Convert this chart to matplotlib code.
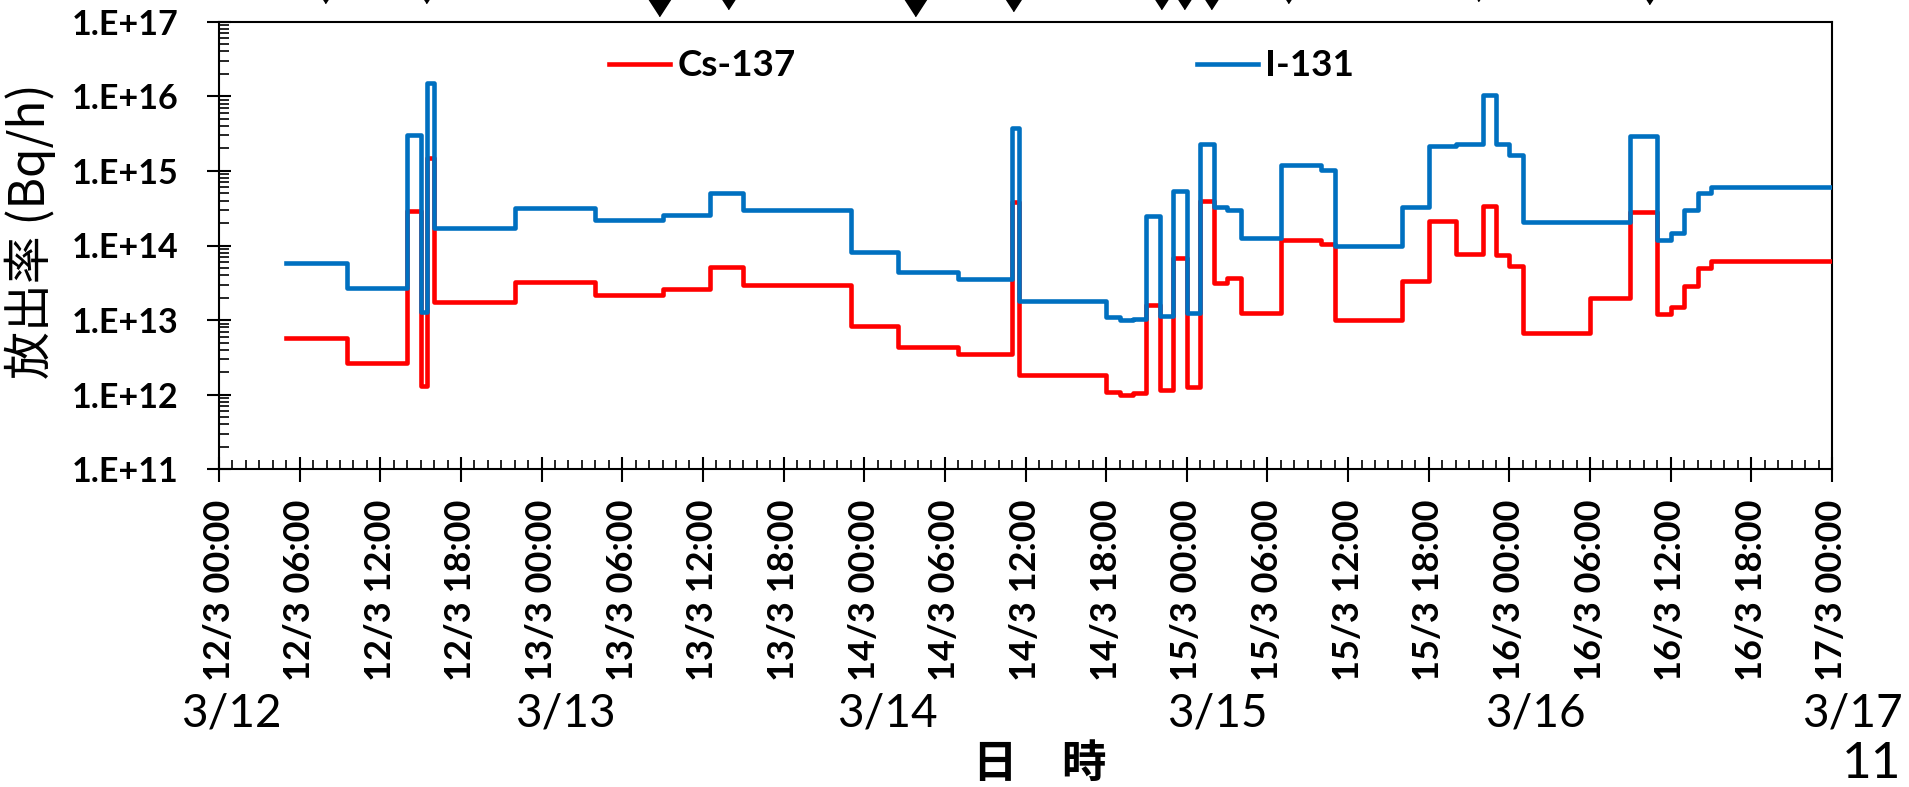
import matplotlib
matplotlib.use("Agg")
import matplotlib.pyplot as plt
import matplotlib.transforms as mtransforms
from matplotlib.ticker import LogLocator, MultipleLocator, NullFormatter
import numpy as np

# hours after 3/12 00:00 at which each release-rate step starts
step_hours = [5, 9.5, 14, 15, 15.5, 16, 22, 28, 33, 36.5,
              39, 47, 50.5, 55, 59, 59.5, 66, 67, 68, 69,
              70, 71, 72, 73, 74, 75, 76, 79, 82, 83,
              88, 90, 92, 94, 95, 96, 97, 102, 105, 107,
              108, 109, 110, 111]
end_hour = 120

# release rate (Bq/h) for each step
i131 = [5.8e13, 2.7e13, 3.0e15, 1.3e13, 1.5e16, 1.7e14, 3.2e14, 2.2e14, 2.6e14, 5.1e14,
        3.0e14, 8.3e13, 4.4e13, 3.56e13, 3.8e15, 1.82e13, 1.09e13, 1.0e13, 1.03e13, 2.45e14,
        1.14e13, 5.4e14, 1.26e13, 2.3e15, 3.3e14, 2.95e14, 1.28e14, 1.21e15, 1.04e15, 1.0e14,
        3.3e14, 2.18e15, 2.3e15, 1.04e16, 2.3e15, 1.63e15, 2.04e14, 2.04e14, 2.9e15, 1.2e14,
        1.45e14, 2.95e14, 5.07e14, 6.1e14]
cs137 = [5.8e12, 2.7e12, 2.9e14, 1.3e12, 1.5e15, 1.75e13, 3.2e13, 2.2e13, 2.6e13, 5.1e13,
         3.0e13, 8.4e12, 4.4e12, 3.5e12, 3.8e14, 1.85e12, 1.1e12, 1.0e12, 1.05e12, 1.6e13,
         1.15e12, 6.9e13, 1.26e12, 3.9e14, 3.1e13, 3.7e13, 1.26e13, 1.2e14, 1.05e14, 1.0e13,
         3.3e13, 2.16e14, 7.6e13, 3.4e14, 7.4e13, 5.3e13, 6.7e12, 2.0e13, 2.8e14, 1.19e13,
         1.48e13, 2.86e13, 5.0e13, 6.2e13]

# event markers along the top (cut off by the slide edge)
event_hours = [7.9, 15.4, 32.7, 37.9, 51.8, 59.1, 70.1, 71.8, 73.8, 79.5, 93.7, 106.4]
event_tip_px = [3, 3, 16, 9, 16, 11, 9, 9, 9, 3, 1, 4]

tick_hours = list(range(0, 121, 6))
tick_labels = ["12/3 00:00", "12/3 06:00", "12/3 12:00", "12/3 18:00",
               "13/3 00:00", "13/3 06:00", "13/3 12:00", "13/3 18:00",
               "14/3 00:00", "14/3 06:00", "14/3 12:00", "14/3 18:00",
               "15/3 00:00", "15/3 06:00", "15/3 12:00", "15/3 18:00",
               "16/3 00:00", "16/3 06:00", "16/3 12:00", "16/3 18:00",
               "17/3 00:00"]
day_labels = ["3/12", "3/13", "3/14", "3/15", "3/16", "3/17"]
day_label_hours = [0.9, 25.8, 49.7, 74.3, 97.9, 121.5]

ytick_vals = [1e11, 1e12, 1e13, 1e14, 1e15, 1e16, 1e17]
ytick_labels = ["1.E+11", "1.E+12", "1.E+13", "1.E+14", "1.E+15", "1.E+16", "1.E+17"]

W, H = 1909, 787
fig = plt.figure(figsize=(W / 100, H / 100), dpi=100)
ax = fig.add_axes([219 / W, 1 - 469.3 / H, (1832 - 219) / W, (469.3 - 21.7) / H])

t = np.append(step_hours, end_hour)
ax.step(t, np.append(cs137, cs137[-1]), where="post", color="#ff0000", lw=3.3, label="Cs-137", zorder=3)
ax.step(t, np.append(i131, i131[-1]), where="post", color="#0070c0", lw=3.3, label="I-131", zorder=4)

ax.set_yscale("log")
ax.set_ylim(1e11, 1e17)
ax.set_xlim(0, 120)

ax.set_yticks(ytick_vals, labels=ytick_labels, fontsize=24.5, fontweight="bold", family="Lato")
ax.yaxis.set_minor_locator(LogLocator(base=10, subs=np.arange(2, 10)))
ax.yaxis.set_minor_formatter(NullFormatter())
ax.set_xticks(tick_hours, labels=tick_labels, rotation=90, fontsize=26,
              fontweight="bold", family="Lato")
ax.xaxis.set_minor_locator(MultipleLocator(1))

ax.tick_params(axis="y", which="major", direction="inout", length=17, width=1.5, pad=21)
ax.tick_params(axis="y", which="minor", direction="in", length=7, width=1.2)
ax.tick_params(axis="x", which="major", direction="inout", length=18, width=1.5, pad=13)
ax.tick_params(axis="x", which="minor", direction="in", length=6.5, width=1.2)
for s in ax.spines.values():
    s.set_linewidth(1.5)

leg = ax.legend(loc="center left", bbox_to_anchor=((609 - 219) / 1613, (469.3 - 66) / 447.6),
                ncol=2, frameon=False, borderaxespad=0, borderpad=0,
                handlelength=1.66, handletextpad=0.2, columnspacing=10.9,
                prop={"family": "Lato", "weight": "bold", "size": 26.5})
for line in leg.get_lines():
    line.set_linewidth(3.3)

# event triangles above the plot
tri = [(-1.3, 1), (1.3, 1), (0, -1)]
blend = mtransforms.blended_transform_factory(ax.transData, fig.transFigure)
for h, tip in zip(event_hours, event_tip_px):
    ax.plot([h], [1 - (tip - 11) / H], marker=tri, ms=21, color="black",
            transform=blend, clip_on=False, ls="none")

for lab, h in zip(day_labels, day_label_hours):
    ax.text(h, 1 - 726.7 / H, lab, transform=blend, ha="center", va="baseline",
            fontsize=33, family="Lato")

fig.text(1040 / W, 1 - 764 / H, "日\u3000時", ha="center", va="center",
         fontsize=32, fontweight="bold", family="Noto Sans CJK JP")
fig.text(30 / W, 1 - 231 / H, "放出率 (Bq/h)", rotation=90, ha="center", va="center",
         fontsize=34.5, family="Noto Sans CJK JP")
fig.text(1901 / W, 1 - 778 / H, "11", ha="right", va="baseline", fontsize=37, family="Lato")

fig.savefig("out.png", dpi=100)
